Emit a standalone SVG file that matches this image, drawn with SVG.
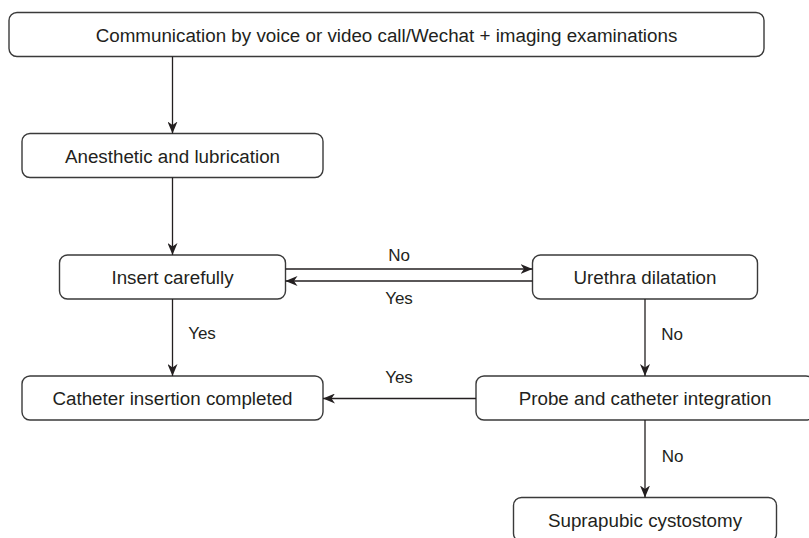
<svg xmlns="http://www.w3.org/2000/svg" width="809" height="538" viewBox="0 0 809 538">
<defs>
<marker id="ah" viewBox="0 0 12 10" refX="12" refY="5" markerWidth="12" markerHeight="10" markerUnits="userSpaceOnUse" orient="auto">
<path d="M0,0 L12,5 L0,10 L3.5,5 Z" fill="#231f20"/>
</marker>
<style>
.box{fill:#fff;stroke:#3a3a3a;stroke-width:1.4}
.t{font-family:"Liberation Sans",Arial,sans-serif;font-size:18.8px;fill:#231f20;text-anchor:middle;dominant-baseline:central}
.l{font-family:"Liberation Sans",Arial,sans-serif;font-size:17px;fill:#231f20;text-anchor:middle;dominant-baseline:central}
.c{fill:none;stroke:#231f20;stroke-width:1.3;marker-end:url(#ah)}
</style>
</defs>
<rect width="809" height="538" fill="#fff"/>
<g id="n-communication"><rect class="box" x="9" y="12.5" width="755" height="44" rx="8"/><text class="t" x="386.5" y="35">Communication by voice or video call/Wechat + imaging examinations</text></g>
<g id="n-anesthetic"><rect class="box" x="22" y="133.5" width="301" height="44" rx="8"/><text class="t" x="172.5" y="156">Anesthetic and lubrication</text></g>
<g id="n-insert"><rect class="box" x="59.5" y="255" width="226" height="44" rx="8"/><text class="t" x="172.5" y="277.5">Insert carefully</text></g>
<g id="n-urethra"><rect class="box" x="532.5" y="255" width="225" height="44" rx="8"/><text class="t" x="645" y="277.5">Urethra dilatation</text></g>
<g id="n-catheter"><rect class="box" x="22" y="376" width="301" height="44" rx="8"/><text class="t" x="172.5" y="398.5">Catheter insertion completed</text></g>
<g id="n-probe"><rect class="box" x="476" y="376" width="338" height="44" rx="8"/><text class="t" x="645" y="398.5">Probe and catheter integration</text></g>
<g id="n-suprapubic"><rect class="box" x="513.5" y="497.5" width="263" height="44" rx="8"/><text class="t" x="645" y="520">Suprapubic cystostomy</text></g>
<g id="connectors">
<line class="c" x1="172.5" y1="56.5" x2="172.5" y2="133.5"/>
<line class="c" x1="172.5" y1="177.5" x2="172.5" y2="255"/>
<line class="c" x1="285.5" y1="269" x2="532.5" y2="269"/>
<line class="c" x1="532.5" y1="281" x2="285.5" y2="281"/>
<line class="c" x1="172.5" y1="299" x2="172.5" y2="376"/>
<line class="c" x1="645" y1="299" x2="645" y2="376"/>
<line class="c" x1="476" y1="398.5" x2="323" y2="398.5"/>
<line class="c" x1="645" y1="420" x2="645" y2="497.5"/>
<text class="l" x="399" y="255">No</text>
<text class="l" x="399" y="298">Yes</text>
<text class="l" x="202" y="333">Yes</text>
<text class="l" x="672" y="334">No</text>
<text class="l" x="399" y="377">Yes</text>
<text class="l" x="672.5" y="456">No</text>
</g>
</svg>
